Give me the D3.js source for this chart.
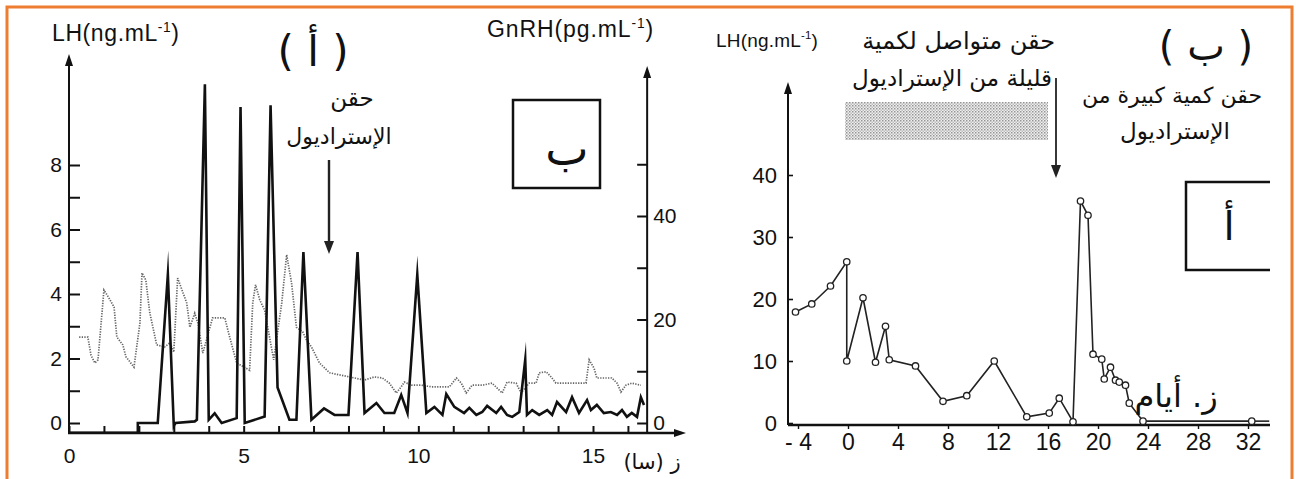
<!DOCTYPE html>
<html><head><meta charset="utf-8">
<script src="https://cdn.jsdelivr.net/npm/d3@7"></script>
<style>body{margin:0;background:#fff}svg{display:block}</style>
</head><body>
<svg id="c" width="1296" height="479"></svg>
<script>
// ---------- DATA ----------
// Left panel: LH (ng/mL) vs time (hours)
const lhPoints = [[0,-0.3],[1.97,-0.3],[1.97,0],[2.54,0],[2.83,4.6],[3.0,-0.1],[3.05,0],[3.6,0.05],[3.66,0.1],[3.89,10.5],[4.0,0.1],[4.17,0.3],[4.37,0],[4.8,0.15],[4.91,9.8],[5.03,0],[5.6,0.2],[5.77,9.85],[5.97,1.1],[6.31,0.1],[6.51,0.1],[6.71,5.3],[6.94,0.1],[7.3,0.45],[7.6,0.25],[8.0,0.25],[8.26,5.3],[8.46,0.31],[8.8,0.62],[9.03,0.31],[9.31,0.31],[9.51,0.87],[9.69,0.31],[9.97,4.6],[10.23,0.31],[10.46,0.5],[10.69,0.25],[10.8,0.9],[11.03,0.5],[11.31,0.31],[11.46,0.47],[11.66,0.25],[11.83,0.34],[11.97,0.53],[12.23,0.31],[12.37,0.5],[12.54,0.25],[12.69,0.19],[12.89,0.34],[13.06,1.96],[13.11,0.25],[13.26,0.4],[13.46,0.25],[13.69,0.4],[13.83,0.25],[13.97,0.65],[14.23,0.34],[14.4,0.8],[14.6,0.31],[14.83,0.71],[14.94,0.4],[15.11,0.56],[15.31,0.31],[15.51,0.34],[15.69,0.25],[15.83,0.4],[15.97,0.19],[16.11,0.31],[16.26,0.19],[16.37,0.8],[16.46,0.56]];
// Left panel: GnRH (pg/mL) vs time (hours)
const gnrhPoints = [[0.29,16.6],[0.54,16.6],[0.63,13.1],[0.74,11.6],[0.83,12.2],[1.0,25.7],[1.14,24.2],[1.29,22.4],[1.37,16.6],[1.54,15.1],[1.63,12.8],[1.86,10.8],[2.03,19.3],[2.09,29.0],[2.2,27.6],[2.31,21.4],[2.51,15.1],[2.74,14.7],[2.89,15.5],[3.0,13.7],[3.11,28.0],[3.37,23.2],[3.46,18.5],[3.6,21.2],[3.69,19.3],[3.83,13.5],[4.11,20.3],[4.46,20.3],[4.6,16.6],[4.8,11.6],[5.17,10.2],[5.26,23.2],[5.34,26.7],[5.46,23.8],[5.6,21.8],[5.74,16.6],[5.86,12.2],[6.09,23.2],[6.23,32.5],[6.37,27.1],[6.51,18.5],[6.69,17.6],[6.8,16.0],[6.94,14.7],[7.17,11.6],[7.46,9.7],[7.74,9.3],[8.03,8.9],[8.46,8.3],[8.74,8.9],[8.97,8.7],[9.17,7.7],[9.37,5.8],[9.51,7.0],[9.6,7.9],[9.8,7.3],[10.09,7.3],[10.37,7.0],[10.66,7.0],[10.89,7.0],[11.09,8.7],[11.23,7.7],[11.37,5.8],[11.54,7.3],[11.83,7.3],[12.11,7.7],[12.4,5.8],[12.54,7.9],[12.8,7.7],[12.94,5.8],[13.17,7.7],[13.37,7.7],[13.46,9.7],[13.66,9.9],[13.8,8.9],[13.94,7.7],[14.4,7.7],[14.8,7.7],[14.89,12.2],[15.03,10.6],[15.11,8.7],[15.54,8.7],[15.69,7.7],[15.8,6.0],[15.94,7.3],[16.11,7.7],[16.37,7.3]];
// Right panel: LH (ng/mL) vs days
const lhDayPoints = [[-4.2,17.9],[-2.9,19.2],[-1.4,22.1],[-0.1,26],[-0.1,10],[1.2,20.2],[2.2,9.8],[3.0,15.6],[3.3,10.2],[5.4,9.2],[7.6,3.5],[9.5,4.4],[11.7,10],[14.3,1.0],[16.1,1.6],[16.9,4.0],[18.0,0.2],[18.6,35.8],[19.2,33.5],[19.6,11.1],[20.3,10.3],[20.5,7.1],[21.0,9.0],[21.4,6.9],[21.7,6.6],[22.2,6.1],[22.5,3.2],[23.6,0.3],[32.3,0.3]];
const lhDayTail = [[32.3,0.3],[33.7,0.3]];

// Tick values / labels
const hourTicks = d3.range(0, 17);
const hourLabels = [0, 5, 10, 15];
const lhTicks = d3.range(0, 9);
const lhLabels = [0, 2, 4, 6, 8];
const gnrhTicks = [0, 10, 20, 30, 40, 50];
const gnrhLabels = [0, 20, 40];
const dayTicks = [-4, 0, 4, 8, 12, 16, 20, 24, 28, 32];
const lhRTicks = [0, 10, 20, 30, 40];

const AR = "'DejaVu Sans', sans-serif";
const LAT = "'Liberation Sans', Arial, sans-serif";

const svg = d3.select('#c');
const defs = svg.append('defs');
const pat = defs.append('pattern').attr('id','stip').attr('width',3).attr('height',3).attr('patternUnits','userSpaceOnUse');
pat.append('rect').attr('width',3).attr('height',3).attr('fill','#efefef');
pat.append('rect').attr('width',1.5).attr('height',1.5).attr('fill','#959595');
pat.append('rect').attr('x',1.5).attr('y',1.5).attr('width',1.5).attr('height',1.5).attr('fill','#bdbdbd');

// border
svg.append('rect').attr('x',7).attr('y',7).attr('width',1285).attr('height',520)
  .attr('fill','none').attr('stroke','#ED7D31').attr('stroke-width',3);

function arrowUp(x, y){
  svg.append('path').attr('d',`M${x-4},${y+12}L${x},${y}L${x+4},${y+12}Z`).attr('fill','#111');
}
function arrowRight(x, y){
  svg.append('path').attr('d',`M${x-12},${y-4}L${x},${y}L${x-12},${y+4}Z`).attr('fill','#111');
}
function arrowDown(x, y1, y2, w){
  svg.append('line').attr('x1',x).attr('x2',x).attr('y1',y1).attr('y2',y2-8).attr('stroke','#222').attr('stroke-width',w);
  svg.append('path').attr('d',`M${x-5},${y2-13}L${x},${y2}L${x+5},${y2-13}Z`).attr('fill','#222');
}

// ---------- LEFT PANEL ----------
const xL = d3.scaleLinear().domain([0, 15]).range([69, 593]);
const yL = d3.scaleLinear().domain([0, 8]).range([423, 165]);
const yG = d3.scaleLinear().domain([0, 40]).range([423, 216]);
const baseL = 433;
const rightAxX = xL(16.55);

// GnRH dotted
svg.append('path').datum(gnrhPoints)
  .attr('d', d3.line().x(d=>xL(d[0])).y(d=>yG(d[1])))
  .attr('fill','none').attr('stroke','#666').attr('stroke-width',1.7).attr('stroke-dasharray','1.3 1.3');

// LH solid
svg.append('path').datum(lhPoints)
  .attr('d', d3.line().x(d=>xL(d[0])).y(d=>yL(d[1])))
  .attr('fill','none').attr('stroke','#111').attr('stroke-width',2.6).attr('stroke-linejoin','miter').attr('stroke-miterlimit',20);

// left y axis
const gyL = svg.append('g').attr('transform',`translate(${xL(0)},0)`)
  .call(d3.axisLeft(yL).tickValues(lhTicks).tickSizeInner(-11).tickSizeOuter(0).tickPadding(7)
    .tickFormat(d => lhLabels.includes(d) ? d : ''));
gyL.select('.domain').remove();
gyL.selectAll('line').attr('stroke','#111').attr('stroke-width',2);
gyL.selectAll('text').attr('font-family',LAT).attr('font-size',21).attr('fill','#111');
svg.append('line').attr('x1',xL(0)).attr('x2',xL(0)).attr('y1',baseL).attr('y2',60).attr('stroke','#111').attr('stroke-width',2);
arrowUp(xL(0), 54);

// right (GnRH) axis
const gyG = svg.append('g').attr('transform',`translate(${rightAxX},0)`)
  .call(d3.axisRight(yG).tickValues(gnrhTicks).tickSizeInner(-10).tickSizeOuter(0).tickPadding(6)
    .tickFormat(d => gnrhLabels.includes(d) ? d : ''));
gyG.select('.domain').remove();
gyG.selectAll('line').attr('stroke','#111').attr('stroke-width',2);
gyG.selectAll('text').attr('font-family',LAT).attr('font-size',21).attr('fill','#111');
svg.append('line').attr('x1',rightAxX).attr('x2',rightAxX).attr('y1',baseL).attr('y2',72).attr('stroke','#111').attr('stroke-width',2);
arrowUp(rightAxX, 66);

// x axis
const gxL = svg.append('g').attr('transform',`translate(0,${baseL})`)
  .call(d3.axisBottom(xL).tickValues(hourTicks).tickSizeInner(-7).tickSizeOuter(0).tickPadding(15)
    .tickFormat(d => hourLabels.includes(d) ? d : ''));
gxL.select('.domain').remove();
gxL.selectAll('line').attr('stroke','#111').attr('stroke-width',2);
gxL.selectAll('text').attr('font-family',LAT).attr('font-size',21).attr('fill','#111');
svg.append('line').attr('x1',xL(0)-1).attr('x2',680).attr('y1',baseL).attr('y2',baseL).attr('stroke','#111').attr('stroke-width',2.4);
arrowRight(686, baseL);

// titles
function unitTitle(x, y, base, size, ls){
  const t = svg.append('text').attr('x',x).attr('y',y).attr('font-family',LAT).attr('font-size',size)
    .attr('letter-spacing', ls || 0).attr('fill','#111');
  t.append('tspan').text(base);
  t.append('tspan').attr('dy',-size*0.4).attr('font-size',size*0.6).text('-1');
  t.append('tspan').attr('dy',size*0.4).text(')');
}
unitTitle(52, 41, 'LH(ng.mL', 23, 0.6);
unitTitle(487, 37, 'GnRH(pg.mL', 23, 0.9);

svg.append('text').attr('x',313).attr('y',66).attr('text-anchor','middle').attr('font-family',AR).attr('font-size',42).attr('fill','#111').attr('direction','rtl').text('( أ )');
svg.append('text').attr('x',352).attr('y',106).attr('text-anchor','middle').attr('font-family',AR).attr('font-size',23).attr('fill','#111').attr('direction','rtl').text('حقن');
svg.append('text').attr('x',339).attr('y',144).attr('text-anchor','middle').attr('font-family',AR).attr('font-size',22).attr('fill','#111').attr('direction','rtl').text('الإستراديول');
arrowDown(329, 160, 254, 2.4);

svg.append('rect').attr('x',513).attr('y',100).attr('width',87).attr('height',88).attr('fill','none').attr('stroke','#111').attr('stroke-width',2.5);
svg.append('text').attr('x',567).attr('y',165).attr('text-anchor','middle').attr('font-family',AR).attr('font-size',46).attr('fill','#111').text('ب');

svg.append('text').attr('x',652).attr('y',469).attr('text-anchor','middle').attr('font-family',AR).attr('font-size',21).attr('fill','#111').attr('direction','rtl').text('ز (سا)');

// ---------- RIGHT PANEL ----------
const xR = d3.scaleLinear().domain([0, 32]).range([848, 1248]);
const yR = d3.scaleLinear().domain([0, 40]).range([423, 175]);
const axRX = xR(-4.8);

svg.append('rect').attr('x',845).attr('y',102).attr('width',203).attr('height',38).attr('fill','url(#stip)');

const lineR = d3.line().x(d=>xR(d[0])).y(d=>yR(d[1]));
svg.append('path').datum(lhDayPoints).attr('d',lineR).attr('fill','none').attr('stroke','#222').attr('stroke-width',1.6);
svg.append('path').datum(lhDayTail).attr('d',lineR).attr('fill','none').attr('stroke','#222').attr('stroke-width',1.6);

const gyR = svg.append('g').attr('transform',`translate(${axRX},0)`)
  .call(d3.axisLeft(yR).tickValues(lhRTicks).tickSizeInner(-5).tickSizeOuter(0).tickPadding(11));
gyR.select('.domain').remove();
gyR.selectAll('line').attr('stroke','#111').attr('stroke-width',1.6);
gyR.selectAll('text').attr('font-family',LAT).attr('font-size',22).attr('fill','#111');
svg.append('line').attr('x1',axRX).attr('x2',axRX).attr('y1',yR(0)+2).attr('y2',88).attr('stroke','#111').attr('stroke-width',2);
arrowUp(axRX, 82);

const gxR = svg.append('g').attr('transform',`translate(0,${yR(0)+2})`)
  .call(d3.axisBottom(xR).tickValues(dayTicks).tickSizeInner(4).tickSizeOuter(0).tickPadding(5)
    .tickFormat(d => d < 0 ? '- ' + Math.abs(d) : d));
gxR.select('.domain').remove();
gxR.selectAll('line').attr('stroke','#111').attr('stroke-width',1.4);
gxR.selectAll('text').attr('font-family',LAT).attr('font-size',23).attr('fill','#111');
svg.append('line').attr('x1',axRX).attr('x2',1270).attr('y1',yR(0)+2).attr('y2',yR(0)+2).attr('stroke','#111').attr('stroke-width',2.4);

svg.append('g').selectAll('circle').data(lhDayPoints).join('circle')
  .attr('cx',d=>xR(d[0])).attr('cy',d=>yR(d[1])).attr('r',3.2)
  .attr('fill','#fff').attr('stroke','#222').attr('stroke-width',1.3);

unitTitle(716, 47, 'LH(ng.mL', 19, 0.2);

svg.append('text').attr('x',1055).attr('y',49).attr('text-anchor','start').attr('font-family',AR).attr('font-size',24).attr('fill','#111').attr('direction','rtl').text('حقن متواصل لكمية');
svg.append('text').attr('x',1052).attr('y',86).attr('text-anchor','start').attr('font-family',AR).attr('font-size',23).attr('fill','#111').attr('direction','rtl').text('قليلة من الإستراديول');
arrowDown(1056, 78, 178, 1.8);

svg.append('text').attr('x',1206).attr('y',60).attr('text-anchor','middle').attr('font-family',AR).attr('font-size',40).attr('fill','#111').attr('direction','rtl').text('( ب )');
svg.append('text').attr('x',1172).attr('y',103).attr('text-anchor','middle').attr('font-family',AR).attr('font-size',22).attr('fill','#111').attr('direction','rtl').text('حقن كمية كبيرة من');
svg.append('text').attr('x',1175).attr('y',139).attr('text-anchor','middle').attr('font-family',AR).attr('font-size',23).attr('fill','#111').attr('direction','rtl').text('الإستراديول');

svg.append('path').attr('d','M1270,182H1186V270H1270').attr('fill','none').attr('stroke','#111').attr('stroke-width',2.5);
svg.append('text').attr('x',1229).attr('y',240).attr('text-anchor','middle').attr('font-family',AR).attr('font-size',40).attr('fill','#111').text('أ');

svg.append('text').attr('x',1176).attr('y',407).attr('text-anchor','middle').attr('font-family',AR).attr('font-size',32).attr('fill','#111').attr('direction','rtl').text('ز. أيام');
</script>
</body></html>
